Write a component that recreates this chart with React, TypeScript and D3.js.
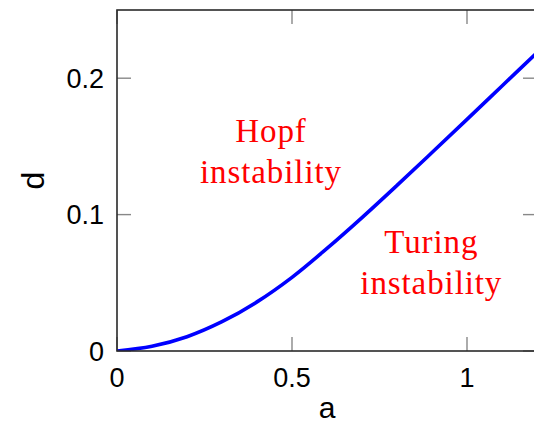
import React from "react";
import * as d3 from "d3";

// Stability boundary d(a) separating Hopf and Turing instability regions
const aValues = [0, 0.1, 0.2, 0.3, 0.4, 0.5, 0.6, 0.7, 0.8, 0.9, 1.0, 1.1, 1.2];
const dValues = [0, 0.0035, 0.0105, 0.0215, 0.036, 0.054, 0.0752, 0.0978, 0.1214, 0.1455, 0.1698, 0.1943, 0.2188];

const xTicks = [0, 0.5, 1];
const yTicks = [0, 0.1, 0.2];
const xTickLabels = ["0", "0.5", "1"];
const yTickLabels = ["0", "0.1", "0.2"];

const regionLabels = [
  { lines: ["Hopf", "instability"], a: 0.44, d: 0.153 },
  { lines: ["Turing", "instability"], a: 0.898, d: 0.072 },
];

const W = 534;
const H = 426;
const left = 117;
const right = 537;
const top = 10;
const bottom = 351;
const tickLen = 14;

export default function App() {
  const x = d3.scaleLinear().domain([0, 1.2]).range([left, right]);
  const y = d3.scaleLinear().domain([0, 0.25]).range([bottom, top]);

  const pts: [number, number][] = aValues.map((a, i) => [a, dValues[i]]);
  const line = d3
    .line<[number, number]>()
    .x((p) => x(p[0]))
    .y((p) => y(p[1]))
    .curve(d3.curveCatmullRom.alpha(0.5));

  const tickFont = "'Liberation Sans', 'DejaVu Sans', sans-serif";
  const textFont = "'Liberation Serif', 'DejaVu Serif', serif";

  return (
    <svg
      width={W}
      height={H}
      style={{ position: "absolute", left: 0, top: 0, background: "#fff" }}
    >
      <defs>
        <clipPath id="plot-clip">
          <rect x={left} y={top} width={right - left} height={bottom - top} />
        </clipPath>
      </defs>

      {/* inward ticks on all four sides */}
      {xTicks.map((t) => (
        <g key={"xt" + t} stroke="#888" strokeWidth={1.4}>
          <line x1={x(t)} x2={x(t)} y1={bottom} y2={bottom - tickLen} />
          <line x1={x(t)} x2={x(t)} y1={top} y2={top + tickLen} />
        </g>
      ))}
      {yTicks.map((t) => (
        <g key={"yt" + t} stroke="#888" strokeWidth={1.4}>
          <line x1={left} x2={left + tickLen} y1={y(t)} y2={y(t)} />
          <line x1={right} x2={right - tickLen} y1={y(t)} y2={y(t)} />
        </g>
      ))}

      {/* boundary curve */}
      <path
        d={line(pts) || ""}
        fill="none"
        stroke="#0000ff"
        strokeWidth={3.6}
        clipPath="url(#plot-clip)"
      />

      {/* frame */}
      <rect
        x={left}
        y={top}
        width={right - left}
        height={bottom - top}
        fill="none"
        stroke="#2a2a2a"
        strokeWidth={1.6}
      />

      {/* tick labels */}
      {xTicks.map((t, i) => (
        <text
          key={"xl" + t}
          x={x(t)}
          y={387}
          textAnchor="middle"
          fontFamily={tickFont}
          fontSize={27}
          fill="#000"
        >
          {xTickLabels[i]}
        </text>
      ))}
      {yTicks.map((t, i) => (
        <text
          key={"yl" + t}
          x={104}
          y={y(t)}
          dy="0.36em"
          textAnchor="end"
          fontFamily={tickFont}
          fontSize={27}
          fill="#000"
        >
          {yTickLabels[i]}
        </text>
      ))}

      {/* axis labels */}
      <text
        x={(left + right) / 2}
        y={418}
        textAnchor="middle"
        fontFamily={tickFont}
        fontSize={30}
        fill="#000"
      >
        a
      </text>
      <text
        transform={`translate(44, ${(top + bottom) / 2}) rotate(-90)`}
        textAnchor="middle"
        fontFamily={tickFont}
        fontSize={32}
        fill="#000"
      >
        d
      </text>

      {/* region annotations */}
      {regionLabels.map((r) => (
        <text
          key={r.lines[0]}
          x={x(r.a)}
          y={y(r.d)}
          textAnchor="middle"
          fontFamily={textFont}
          fontSize={33}
          letterSpacing={0.9}
          fill="#ff0000"
        >
          <tspan x={x(r.a)} dy={0}>
            {r.lines[0]}
          </tspan>
          <tspan x={x(r.a)} dy={41}>
            {r.lines[1]}
          </tspan>
        </text>
      ))}
    </svg>
  );
}
